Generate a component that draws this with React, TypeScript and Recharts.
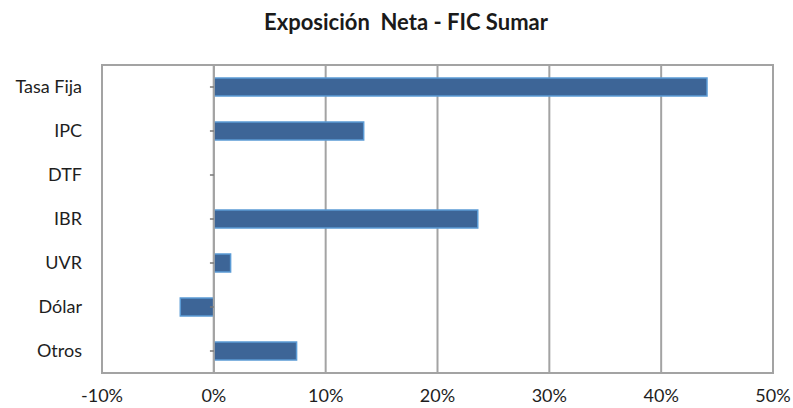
import { Bar, BarChart, CartesianGrid, ReferenceArea, ReferenceLine, XAxis, YAxis } from "recharts";

const categories = ["Tasa Fija", "IPC", "DTF", "IBR", "UVR", "Dólar", "Otros"];
const exposure = [44.1, 13.4, 0, 23.6, 1.5, -3.0, 7.4];
const xTicks = [-10, 0, 10, 20, 30, 40, 50];

const data = categories.map((name, i) => ({ name, value: exposure[i] }));

const FONT = "Lato, 'Open Sans', sans-serif";
const GRID = "#a3a3a3";

export default function App() {
  return (
    <div style={{ position: "absolute", left: 0, top: 0, width: 793, height: 408, background: "#fff", fontFamily: FONT }}>
      <div
        style={{
          position: "absolute",
          left: 0,
          top: 8,
          width: 812,
          textAlign: "center",
          fontSize: 22,
          fontWeight: 700,
          color: "#1a1a1a",
          whiteSpace: "pre",
        }}
      >
        {"Exposición  Neta - FIC Sumar"}
      </div>
      <BarChart
        width={793}
        height={408}
        data={data}
        layout="vertical"
        margin={{ top: 65, right: 20, bottom: 0, left: 0 }}
        barSize={18}
      >
        <CartesianGrid horizontal={false} stroke={GRID} strokeWidth={2} />
        <ReferenceArea x1={-10} x2={50} fill="none" stroke={GRID} strokeWidth={2} ifOverflow="extendDomain" />
        <XAxis
          type="number"
          domain={[-10, 50]}
          ticks={xTicks}
          tickFormatter={(v) => `${v}%`}
          axisLine={{ stroke: GRID, strokeWidth: 2 }}
          tickLine={false}
          tickSize={0}
          tickMargin={16}
          height={35}
          tick={{ fill: "#1e1e1e", fontSize: 18, fontFamily: FONT }}
          interval={0}
        />
        <YAxis
          type="category"
          dataKey="name"
          width={102}
          axisLine={false}
          tickLine={false}
          tickSize={0}
          tickMargin={20}
          tick={{ fill: "#1e1e1e", fontSize: 18, fontFamily: FONT }}
          interval={0}
        />
        <ReferenceLine x={0} stroke={GRID} strokeWidth={2} />
        {categories.map((c) => (
          <ReferenceLine
            key={c}
            segment={[
              { x: -0.35, y: c },
              { x: 0, y: c },
            ]}
            stroke="#777"
            strokeWidth={1.5}
          />
        ))}
        <Bar dataKey="value" fill="#3d6597" stroke="#5b9bd5" strokeWidth={1.5} isAnimationActive={false} />
      </BarChart>
    </div>
  );
}
